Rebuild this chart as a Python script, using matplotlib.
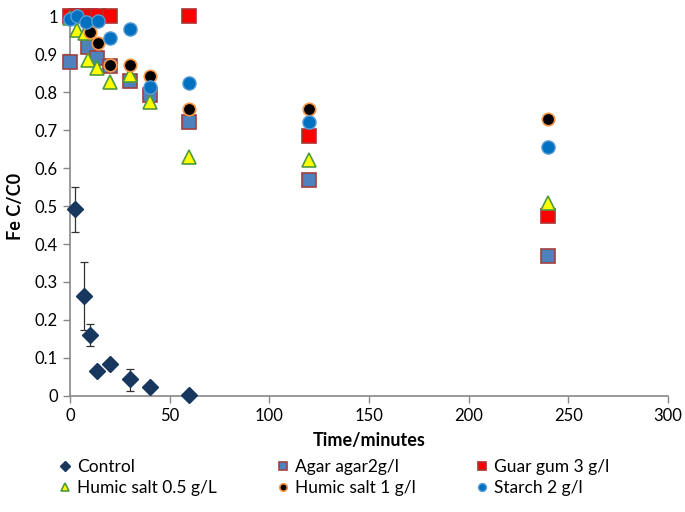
import matplotlib.pyplot as plt

plt.rcParams['font.family'] = ['Lato', 'DejaVu Sans']

# control (with error bars)
t_control = [2.5, 7, 10, 13.5, 20, 30, 40, 60]
control = [0.492, 0.263, 0.160, 0.065, 0.083, 0.045, 0.022, 0.002]
control_lo = [0.060, 0.089, 0.030, 0, 0, 0.032, 0, 0]
control_hi = [0.058, 0.090, 0.030, 0, 0, 0.026, 0, 0]

t_agar = [0, 9, 13.5, 20, 30, 40, 60, 120, 240]
agar = [0.879, 0.918, 0.890, 0.870, 0.830, 0.792, 0.722, 0.568, 0.368]

t_guar = [0, 3, 7, 10, 14, 20, 60, 120, 240]
guar = [1.0, 1.0, 1.0, 1.0, 1.0, 1.0, 1.0, 0.685, 0.474]

t_humic05 = [0, 3.5, 7.5, 9, 13.5, 20, 30, 40, 60, 120, 240]
humic05 = [0.995, 0.963, 0.955, 0.884, 0.864, 0.826, 0.845, 0.774, 0.629, 0.621, 0.508]

t_humic1 = [10, 14, 20, 30, 40, 60, 120, 240]
humic1 = [0.958, 0.929, 0.873, 0.873, 0.842, 0.755, 0.756, 0.729]

t_starch = [0, 3.5, 8, 14, 20, 30, 40, 60, 120, 240]
starch = [0.992, 1.0, 0.984, 0.987, 0.942, 0.966, 0.813, 0.824, 0.721, 0.655]

fig, ax = plt.subplots(figsize=(6.85, 5.12), dpi=100)
fig.subplots_adjust(left=0.102, right=0.975, top=0.968, bottom=0.227)

ax.errorbar(t_control, control, yerr=[control_lo, control_hi], fmt='none',
            ecolor='#333333', elinewidth=0.9, capsize=3, capthick=0.9, zorder=2)
h_control, = ax.plot(t_control, control, 'D', color='#17375E', ms=8,
                     label='Control', zorder=3, clip_on=False)
h_agar, = ax.plot(t_agar, agar, 's', ms=9.5, mfc='#4F81BD', mec='#A04040', mew=1.2,
                  label='Agar agar2g/l', zorder=4, clip_on=False)
h_guar, = ax.plot(t_guar, guar, 's', ms=9.5, mfc='#FF0000', mec='#B03030', mew=1.2,
                  label='Guar gum 3 g/l', zorder=5, clip_on=False)
h_h05, = ax.plot(t_humic05, humic05, '^', ms=10, mfc='#FFFF00', mec='#4E9A40', mew=1.2,
                 label='Humic salt 0.5 g/L', zorder=6, clip_on=False)
h_h1, = ax.plot(t_humic1, humic1, 'o', ms=9, mfc='#000000', mec='#F79646', mew=1.2,
                label='Humic salt 1 g/l', zorder=7, clip_on=False)
h_starch, = ax.plot(t_starch, starch, 'o', ms=9.5, mfc='#0070C0', mec='#5B9BD5', mew=1.0,
                    label='Starch 2 g/l', zorder=8, clip_on=False)

ax.set_xlim(0, 300)
ax.set_ylim(0, 1.0)
ax.set_xticks(range(0, 301, 50))
ax.set_yticks([i / 10 for i in range(11)])
ax.set_yticklabels(['0'] + ['%.1f' % (i / 10) for i in range(1, 10)] + ['1'])
ax.tick_params(labelsize=12, color='#888888', length=5, width=1)
for s in ['top', 'right']:
    ax.spines[s].set_visible(False)
for s in ['left', 'bottom']:
    ax.spines[s].set_color('#888888')
    ax.spines[s].set_linewidth(1.2)

ax.set_xlabel('Time/minutes', fontsize=13, fontweight='bold', labelpad=6)
ax.set_ylabel('Fe C/C0', fontsize=13, fontweight='bold', labelpad=8)

# legend is filled column by column, so order for rows of three
handles = [h_control, h_h05, h_agar, h_h1, h_guar, h_starch]
fig.legend(handles, [h.get_label() for h in handles], ncol=3, loc='lower left',
           bbox_to_anchor=(0.062, 0.0), frameon=False, fontsize=12.5, handlelength=0.8,
           handletextpad=0.3, columnspacing=3.4, labelspacing=0.3, markerscale=0.6)

plt.savefig('out.png')
